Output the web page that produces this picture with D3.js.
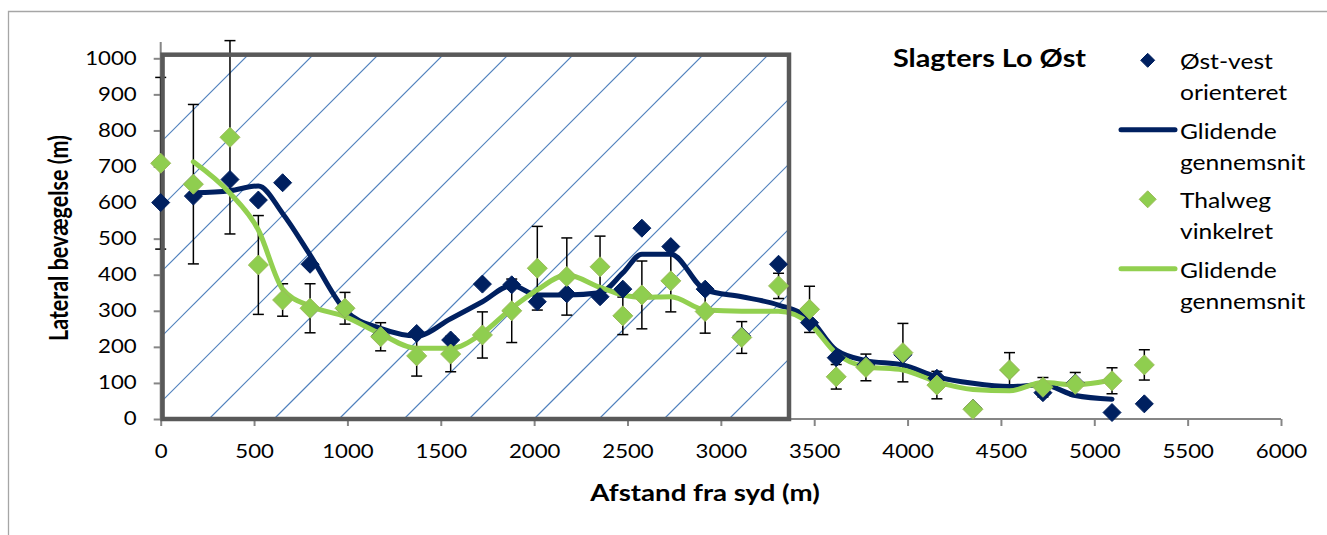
<!DOCTYPE html>
<html><head><meta charset="utf-8">
<script src="https://cdn.jsdelivr.net/npm/d3@7"></script>
<style>body{margin:0;background:#fff}svg{display:block}</style>
</head><body>
<svg id="chart" width="1327" height="535"></svg>
<script>
// ---------- data ----------
const distances = [0,175,371,523,653,800,987,1178,1371,1553,1723,1880,2017,2175,2353,2475,2577,2732,2916,3112,3309,3475,3618,3777,3975,4157,4350,4546,4725,4898,5095,5268];
const ostVest   = [600,618,664,607,655,429,305,232,237,219,374,372,325,347,339,360,529,478,360,230,429,267,170,150,178,113,30,135,73,100,18,42];
const thalweg   = [709,651,781,427,330,307,307,228,175,180,233,300,418,395,422,286,344,383,298,226,369,304,117,143,184,94,27,136,88,96,106,150];
const thalwegErr= [238,221,268,137,45,68,44,39,56,49,64,88,116,107,85,52,94,86,60,44,35,64,34,37,81,38,0,48,27,33,36,42];
// moving averages, plotted from the 2nd distance to the 31st
const maDistances = distances.slice(1,31);
const ostVestMA = [627,633,646,570,455,302,251,230,278,325,370,344,344,350,405,457,457,358,339,316,279,191,162,150,117,99,90,95,65,55];
const thalwegMA = [713,626,524,360,313,284,236,196,196,238,307,358,399,365,344,337,339,302,299,299,265,182,145,136,103,82,78,101,95,108];
const xTicks = d3.range(0,6001,500);
const yTicks = d3.range(0,1001,100);
const hatchBox = [10,3365,0,1010]; // x0,x1,y0,y1 in data units
const legendItems = [
  {type:"marker", series:"blue", lines:["Øst-vest","orienteret"]},
  {type:"line", series:"blue", lines:["Glidende","gennemsnit"]},
  {type:"marker", series:"green", lines:["Thalweg","vinkelret"]},
  {type:"line", series:"green", lines:["Glidende","gennemsnit"]}
];
const titleText = "Slagters Lo Øst";
const xTitle = "Afstand fra syd (m)";
const yTitle = "Lateral bevægelse (m)";

// ---------- setup ----------
const SX = 1.2;
const FONT = "Lato, 'Open Sans', sans-serif";
const COL = {blue:"#002060", greenFill:"#8fce4f", greenStroke:"#9bbb59", greenLine:"#92d050"};
const svg = d3.select("#chart");
const x = d3.scaleLinear().domain([0,6000]).range([160.7,1281]);
const y = d3.scaleLinear().domain([0,1000]).range([419,58.3]);

// outer chart frame (partially cropped)
svg.append("path").attr("d","M8.5,540 V11.5 H1330").attr("fill","none")
  .attr("stroke","#a6a6a6").attr("stroke-width",1.3);

function sText(g, tx, ty, str, opts){
  return g.append("text")
    .attr("transform", `translate(${tx},${ty})` + (opts.rot ? ` rotate(${opts.rot}) scale(1,${SX})` : ` scale(${SX},1)`))
    .attr("font-family", FONT).attr("font-size", opts.size)
    .attr("font-weight", opts.bold ? "bold" : "normal")
    .attr("text-anchor", opts.anchor || "start").attr("fill","#000").text(str);
}

// axes
const axisColor = "#868686";
const gx = svg.append("g").attr("transform",`translate(0,${y(0)})`)
  .call(d3.axisBottom(x).tickValues(xTicks).tickSize(7).tickPadding(15).tickFormat(d3.format("d")));
const gy = svg.append("g").attr("transform",`translate(${x(0)},0)`)
  .call(d3.axisLeft(y).tickValues(yTicks).tickSize(7).tickPadding(17).tickFormat(d3.format("d")));
[gx,gy].forEach(g=>{
  g.select(".domain").attr("stroke",axisColor).attr("stroke-width",2);
  g.selectAll(".tick line").attr("stroke",axisColor).attr("stroke-width",2);
  g.selectAll("text").attr("font-family",FONT).attr("font-size",18.5).attr("fill","#000");
});
gx.select(".domain").attr("d",`M${x(0)},0H${x(6000)}`);
gy.select(".domain").attr("d",`M0,${y(1045)}V${y(0)}`);
gx.selectAll(".tick text").attr("transform",`scale(${SX},1)`).attr("dy","0.9em");
gy.selectAll(".tick text").each(function(){
  const t = d3.select(this); t.attr("x", (+t.attr("x"))/SX).attr("transform",`scale(${SX},1)`);
});

// hatched box fill
const bx0 = x(hatchBox[0]), bx1 = x(hatchBox[1]), by0 = y(hatchBox[3]), by1 = y(hatchBox[2]);
svg.append("clipPath").attr("id","boxclip").append("rect")
  .attr("x",bx0).attr("y",by0).attr("width",bx1-bx0).attr("height",by1-by0);
const hatch = svg.append("g").attr("clip-path","url(#boxclip)");
for (let c = 303; c < bx1 + by1; c += 65) {
  hatch.append("line").attr("x1", c - by1).attr("y1", by1).attr("x2", c - by0).attr("y2", by0)
    .attr("stroke","#4f81bd").attr("stroke-width",1.2);
}

// error bars (thalweg)
const eb = svg.append("g").attr("stroke","#000").attr("stroke-width",1.5);
distances.forEach((d,i)=>{
  if (!thalwegErr[i]) return;
  const cx = x(d), lo = y(thalweg[i]-thalwegErr[i]), hi = y(thalweg[i]+thalwegErr[i]);
  eb.append("line").attr("x1",cx).attr("x2",cx).attr("y1",lo).attr("y2",hi);
  eb.append("line").attr("x1",cx-5.5).attr("x2",cx+5.5).attr("y1",lo).attr("y2",lo);
  eb.append("line").attr("x1",cx-5.5).attr("x2",cx+5.5).attr("y1",hi).attr("y2",hi);
});

// moving average lines
const line = d3.line().x((d,i)=>x(maDistances[i])).y(d=>y(d)).curve(d3.curveMonotoneX);
svg.append("path").datum(ostVestMA).attr("d",line).attr("fill","none")
  .attr("stroke",COL.blue).attr("stroke-width",5).attr("stroke-linejoin","round").attr("stroke-linecap","round");
svg.append("path").datum(thalwegMA).attr("d",line).attr("fill","none")
  .attr("stroke",COL.greenLine).attr("stroke-width",5).attr("stroke-linejoin","round").attr("stroke-linecap","round");

// box border (on top of lines)
svg.append("rect").attr("x",bx0).attr("y",by0).attr("width",bx1-bx0).attr("height",by1-by0)
  .attr("fill","none").attr("stroke","#595959").attr("stroke-width",4.5);

// diamonds
function diamond(g, cx, cy, half, fill, stroke){
  g.append("path").attr("d",`M${cx},${cy-half}L${cx+half},${cy}L${cx},${cy+half}L${cx-half},${cy}Z`)
    .attr("fill",fill).attr("stroke",stroke).attr("stroke-width",1);
}
const mk = svg.append("g");
distances.forEach((d,i)=> diamond(mk, x(d), y(ostVest[i]), 9, COL.blue, COL.blue));
distances.forEach((d,i)=> diamond(mk, x(d), y(thalweg[i]), 10, COL.greenFill, COL.greenStroke));

// title
sText(svg, 893, 67, titleText, {size:24, bold:true});

// legend
const lg = svg.append("g");
legendItems.forEach((it,k)=>{
  const top = 69.3 + k*69.5;
  const isBlue = it.series==="blue";
  if (it.type==="marker") diamond(lg, 1147.7, top-9, isBlue?7:8.5, isBlue?COL.blue:COL.greenFill, isBlue?COL.blue:COL.greenStroke);
  else lg.append("line").attr("x1",1121).attr("x2",1175).attr("y1",top-9).attr("y2",top-9)
        .attr("stroke",isBlue?COL.blue:COL.greenLine).attr("stroke-width",5).attr("stroke-linecap","round");
  it.lines.forEach((s,j)=> sText(lg, 1180, top + j*31, s, {size:20.5}));
});

// axis titles
sText(svg, 705, 501, xTitle, {size:23, bold:true, anchor:"middle"});
sText(svg, 68, 238, yTitle, {size:21.5, bold:true, anchor:"middle", rot:-90});
</script>
</body></html>
